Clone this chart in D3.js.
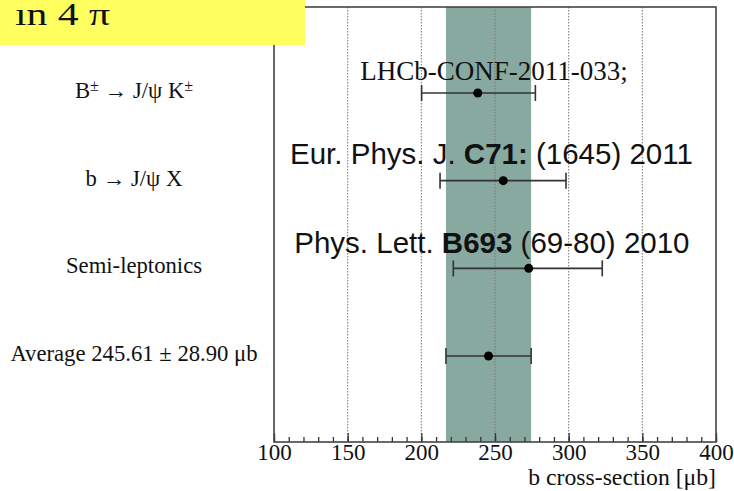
<!DOCTYPE html>
<html>
<head>
<meta charset="utf-8">
<style>
    body { margin: 0; background: #fff; }
    svg { display: block; }
    .serif { font-family: 'Liberation Serif', 'Times New Roman', serif; fill: #111; }
    .sans { font-family: 'Liberation Sans', Arial, sans-serif; fill: #111; }
    .grid line { stroke: #777; stroke-dasharray: 1.5 1.5; stroke-width: 1; }
    .x .domain { display: none; }
    .x .tick line { stroke: #333; stroke-width: 1.3; }
    .x .tick text { font-family: 'Liberation Serif', 'Times New Roman', serif; font-size: 23px; fill: #111; }
</style>
</head>
<body>
<svg width="734" height="491"></svg>
<script src="https://d3js.org/d3.v7.min.js"></script>
<script>
    // measurements (b cross-section in microbarn, 4 pi)
    let labels = [
        [["B", ""], ["\u00b1", "sup"], [" \u2192 J/\u03c8 K", ""], ["\u00b1", "sup"]],
        [["b  \u2192 J/\u03c8 X", ""]],
        [["Semi-leptonics", ""]],
        [["Average 245.61 \u00b1 28.90 \u03bcb", ""]]
    ];
    let central = [238.3, 255.6, 272.9, 245.61];
    let lowErr = [38.1, 42.9, 51.2, 28.90];
    let highErr = [39.1, 42.6, 49.9, 28.90];
    let avg = 245.61;
    let avgErr = 28.90;
    let majorTicks = [100, 150, 200, 250, 300, 350, 400];
    let gridTicks = [150, 200, 250, 300, 350];

    let svg = d3.select("svg");

    let margin = { top: 7, right: 18, bottom: 49, left: 274 };
    let width = 734, height = 491;

    let x = d3.scaleLinear()
        .domain([100, 400])
        .range([margin.left, width - margin.right]);

    let y = d3.scalePoint()
        .domain(d3.range(labels.length))
        .range([margin.top, height - margin.bottom])
        .padding(0.98);

    let yTop = margin.top, yBot = height - margin.bottom;

    // average band
    svg.append("rect")
        .attr("x", x(avg - avgErr))
        .attr("y", yTop)
        .attr("width", x(avg + avgErr) - x(avg - avgErr))
        .attr("height", yBot - yTop)
        .attr("fill", "#87a9a0");

    // dotted grid
    svg.append("g")
        .attr("class", "grid")
        .selectAll("line")
        .data(gridTicks)
        .join("line")
        .attr("x1", d => x(d)).attr("x2", d => x(d))
        .attr("y1", yTop).attr("y2", yBot);

    // minor ticks (inside)
    svg.append("g")
        .attr("class", "x axis")
        .attr("transform", `translate(0,${yBot})`)
        .call(d3.axisTop(x).ticks(30).tickSize(5).tickFormat(""));

    // major ticks
    svg.append("g")
        .attr("class", "x axis")
        .attr("transform", `translate(0,${yBot})`)
        .call(d3.axisTop(x).tickValues(majorTicks).tickSize(9).tickFormat(""));

    // tick labels
    svg.append("g")
        .attr("class", "x axis")
        .attr("transform", `translate(0,${yBot})`)
        .call(d3.axisBottom(x).tickValues(majorTicks).tickSize(0).tickPadding(2).tickFormat(d3.format("d")))
        .call(g => g.selectAll("text").attr("dy", "0.71em"));

    // frame
    svg.append("rect")
        .attr("x", margin.left).attr("y", yTop)
        .attr("width", x(400) - margin.left).attr("height", yBot - yTop)
        .attr("fill", "none").attr("stroke", "#444").attr("stroke-width", 1.6);

    // error bars
    let rows = svg.append("g").attr("class", "rows")
        .selectAll("g")
        .data(central.map((c, i) => ({ i: i, c: c, lo: c - lowErr[i], hi: c + highErr[i] })))
        .join("g");

    rows.append("line")
        .attr("x1", d => x(d.lo)).attr("x2", d => x(d.hi))
        .attr("y1", d => y(d.i)).attr("y2", d => y(d.i))
        .attr("stroke", "#333").attr("stroke-width", 1.6);

    rows.selectAll(".cap")
        .data(d => [d.lo, d.hi].map(v => ({ v: v, i: d.i })))
        .join("line")
        .attr("class", "cap")
        .attr("x1", d => x(d.v)).attr("x2", d => x(d.v))
        .attr("y1", d => y(d.i) - 8).attr("y2", d => y(d.i) + 8)
        .attr("stroke", "#333").attr("stroke-width", 1.6);

    rows.append("circle")
        .attr("cx", d => x(d.c)).attr("cy", d => y(d.i))
        .attr("r", 4.5).attr("fill", "#000");

    // row labels
    svg.append("g")
        .selectAll("text")
        .data(labels)
        .join("text")
        .attr("class", "serif")
        .attr("x", 134)
        .attr("y", (d, i) => y(i) + 5)
        .attr("text-anchor", "middle")
        .style("font-size", "22.7px")
        .selectAll("tspan")
        .data(d => d)
        .join("tspan")
        .attr("baseline-shift", d => d[1] == "sup" ? "42%" : null)
        .style("font-size", d => d[1] == "sup" ? "16px" : null)
        .text(d => d[0]);

    // references
    svg.append("text")
        .attr("class", "serif")
        .attr("x", x(249.3)).attr("y", y(0) - 13)
        .attr("text-anchor", "middle")
        .style("font-size", "27px")
        .text("LHCb-CONF-2011-033;");

    let ref2 = svg.append("text")
        .attr("class", "sans")
        .attr("x", x(247.6)).attr("y", y(1) - 17)
        .attr("text-anchor", "middle")
        .style("font-size", "29.5px");
    ref2.append("tspan").text("Eur. Phys. J. ");
    ref2.append("tspan").attr("font-weight", "bold").text("C71:");
    ref2.append("tspan").text(" (1645) 2011");

    let ref3 = svg.append("text")
        .attr("class", "sans")
        .attr("x", x(247.9)).attr("y", y(2) - 15)
        .attr("text-anchor", "middle")
        .style("font-size", "29.5px");
    ref3.append("tspan").text("Phys. Lett. ");
    ref3.append("tspan").attr("font-weight", "bold").text("B693");
    ref3.append("tspan").text(" (69-80) 2010");

    // axis title
    svg.append("text")
        .attr("class", "serif")
        .attr("x", x(400)).attr("y", 485)
        .attr("text-anchor", "end")
        .style("font-size", "23.7px")
        .text("b cross-section [\u03bcb]");

    // yellow title box
    svg.append("rect")
        .attr("x", 0).attr("y", 0)
        .attr("width", 305).attr("height", 45)
        .attr("fill", "#ffff5f");

    svg.append("text")
        .attr("class", "serif")
        .attr("x", 15).attr("y", 25)
        .attr("textLength", 95)
        .attr("lengthAdjust", "spacingAndGlyphs")
        .style("font-size", "31px")
        .text("\u0131n 4 \u03c0");
</script>
</body>
</html>
